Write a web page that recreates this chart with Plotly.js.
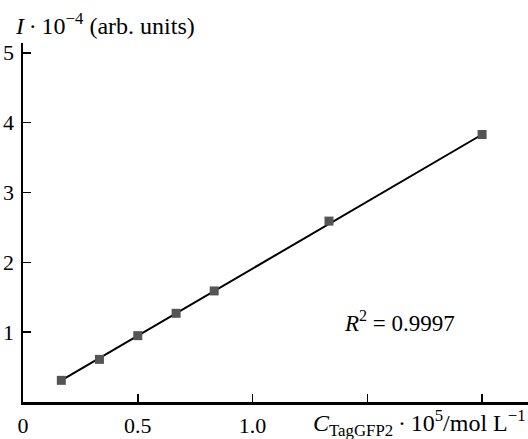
<!DOCTYPE html>
<html><head><meta charset="utf-8">
<script src="https://cdn.plot.ly/plotly-3.0.1.min.js"></script>
<style>html,body{margin:0;padding:0;background:#fff;}#chart{width:528px;height:439px;}</style>
</head><body><div id="chart"></div>
<script>
const concentration = [0.167, 0.333, 0.5, 0.667, 0.833, 1.333, 2.0];
const intensity = [0.31, 0.61, 0.95, 1.27, 1.59, 2.59, 3.83];
const fitX = [0.167, 2.0];
const fitY = [0.31, 3.83];
const xTickVals = [0, 0.5, 1.0, 1.5, 2.0];
const xTickText = ['0', '0.5', '1.0', '', ''];
const yTickVals = [1, 2, 3, 4, 5];
const yTickText = ['1', '2', '3', '4', '5'];

const font = 'Liberation Serif, Times New Roman, serif';
const traces = [
  {x: fitX, y: fitY, mode: 'lines', line: {color: '#000', width: 2}, hoverinfo: 'skip'},
  {x: concentration, y: intensity, mode: 'markers', marker: {symbol: 'square', size: 9, color: '#555'}}
];
const layout = {
  width: 528, height: 439,
  margin: {l: 23, r: 0, t: 43, b: 37},
  paper_bgcolor: '#fff', plot_bgcolor: '#fff',
  showlegend: false,
  font: {family: font, size: 21, color: '#000'},
  xaxis: {range: [0, 2.2], showgrid: false, zeroline: false, showline: true, linewidth: 2.5, linecolor: '#000',
    ticks: 'inside', ticklen: 8, tickwidth: 1.5, tickcolor: '#000', tickvals: xTickVals, ticktext: xTickText,
    ticklabelstandoff: 2, tickfont: {family: font, size: 22}},
  yaxis: {range: [0, 5.14], showgrid: false, zeroline: false, showline: true, linewidth: 2.5, linecolor: '#000',
    ticks: 'inside', ticklen: 8, tickwidth: 1.5, tickcolor: '#000', tickvals: yTickVals, ticktext: yTickText,
    ticklabelstandoff: 2, tickfont: {family: font, size: 22}},
  annotations: [
    {text: '<i>I</i>\u2009·\u200910<sup>\u22124</sup> (arb. units)', xref: 'paper', yref: 'paper', x: -0.02, y: 1.005, xanchor: 'left', yanchor: 'bottom', showarrow: false, font: {family: font, size: 24}},
    {text: '<i>C</i><sub>TagGFP2</sub>\u2009·\u200910<sup>5</sup>/mol L<sup>\u22121</sup>', xref: 'paper', yref: 'paper', x: 1.0, y: -0.005, xanchor: 'right', yanchor: 'top', showarrow: false, font: {family: font, size: 24}},
    {text: '<i>R</i><sup>2</sup> = 0.9997', xref: 'x', yref: 'y', x: 1.64, y: 1.15, xanchor: 'center', yanchor: 'middle', showarrow: false, font: {family: font, size: 23}}
  ]
};
Plotly.newPlot('chart', traces, layout, {displayModeBar: false, staticPlot: true});
</script></body></html>
